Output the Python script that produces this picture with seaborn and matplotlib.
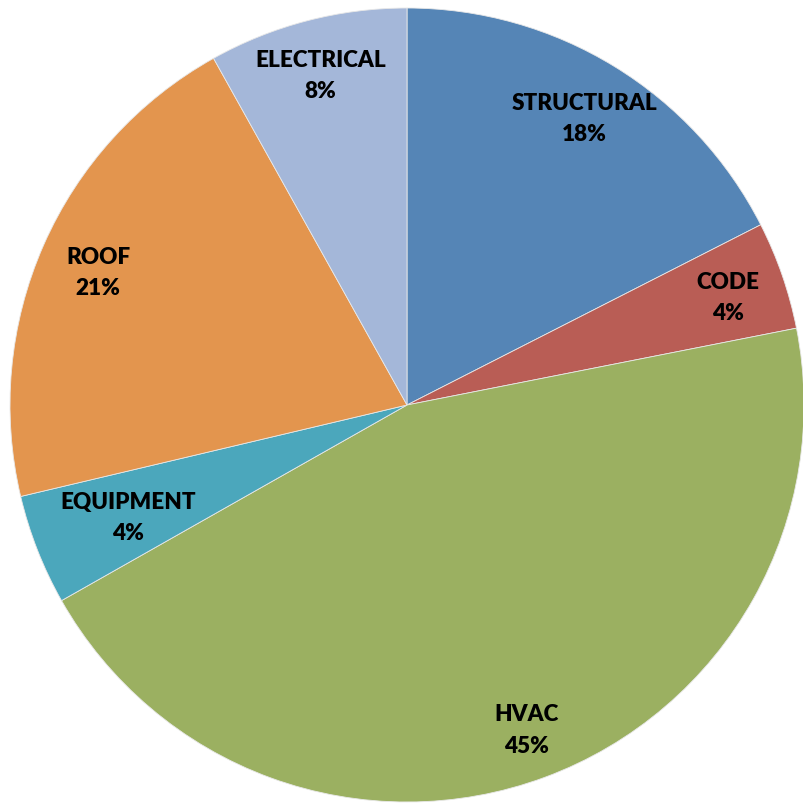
import matplotlib
matplotlib.use("Agg")
import matplotlib.pyplot as plt
import seaborn as sns
import numpy as np

sns.set_theme(style="white")
plt.rcParams['font.family'] = ['Lato', 'DejaVu Sans']

categories = ["STRUCTURAL", "CODE", "HVAC", "EQUIPMENT", "ROOF", "ELECTRICAL"]
values = [17.5, 4.4, 44.9, 4.5, 20.6, 8.1]
percent_labels = ["18%", "4%", "45%", "4%", "21%", "8%"]
colors = ["#5585B6", "#B95D55", "#9BB061", "#4BA7BC", "#E3954E", "#A4B7D9"]
label_radius = [0.855, 0.855, 0.865, 0.755, 0.85, 0.865]

fig = plt.figure(figsize=(8.04, 8.09), dpi=100)
ax = fig.add_axes([0.01244, 0.00865, 0.98756, 0.98146])

wedges, _ = ax.pie(values, colors=colors, startangle=90, counterclock=False,
                   radius=1.0, wedgeprops=dict(edgecolor="#E8E8E8", linewidth=0.6))

for w, cat, pl, r in zip(wedges, categories, percent_labels, label_radius):
    ang = np.deg2rad((w.theta1 + w.theta2) / 2)
    x, y = r * np.cos(ang), r * np.sin(ang) - 0.009
    ax.text(x, y, f"{cat}\n{pl}", ha="center", va="center",
            fontsize=16.2, fontweight="heavy", color="black", linespacing=1.6)

ax.set_xlim(-1, 1)
ax.set_ylim(-1, 1)
ax.set_aspect("equal")
ax.axis("off")
fig.savefig("out.png", dpi=100, facecolor="white")
